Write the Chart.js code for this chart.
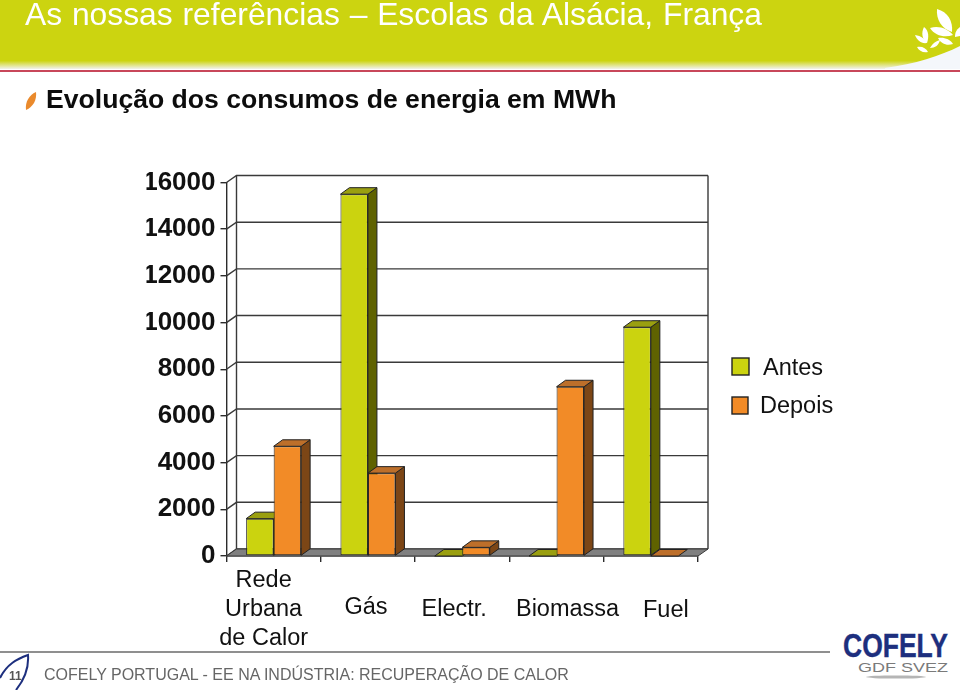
<!DOCTYPE html>
<html lang="pt">
<head>
<meta charset="UTF-8">
<title>Evolução dos consumos de energia em MWh</title>
<script src="https://cdn.jsdelivr.net/npm/chart.js"></script>
<style>
  html, body { margin: 0; padding: 0; background: #fff; }
  body { position: relative; width: 960px; height: 690px; overflow: hidden; font-family: "Liberation Sans", Arial, sans-serif; }
  #decor, #chart { position: absolute; left: 0; top: 0; }
  .txt { position: absolute; white-space: pre; }
  #title { left: 25px; top: -4px; font-size: 31.8px; line-height: 36px; word-spacing: 1px; color: #fff; }
  #subtitle { left: 46px; top: 84px; font-size: 26.6px; line-height: 30px; font-weight: bold; color: #0c0c0c; }
  #footer { left: 44px; top: 665px; font-size: 16px; line-height: 20px; color: #666; }
  #page { left: 9px; top: 669px; font-size: 12px; line-height: 14px; font-weight: bold; color: #555; }
</style>
</head>
<body>
<svg id="decor" width="960" height="690" viewBox="0 0 960 690">
  <defs>
    <linearGradient id="band" x1="0" y1="0" x2="0" y2="1">
      <stop offset="0" stop-color="#ccd410"/>
      <stop offset="0.88" stop-color="#ccd410"/>
      <stop offset="1" stop-color="#f2f2ee"/>
    </linearGradient>
  </defs>
  <rect x="0" y="0" width="960" height="69" fill="url(#band)"/>
  <path d="M885 68 C915 64 940 56 960 46 L960 69 L885 69 Z" fill="#f4f7fb"/>
  <rect x="0" y="70" width="960" height="2" fill="#c8475a"/>
  <g fill="#fff">
    <path d="M937 9 C948 12 953 21 952 32 C942 29 936 20 937 9 Z"/>
    <path d="M960 27 C956 30 955 33 955 37 L960 36 Z"/>
    <path d="M930 28 C939 25 948 29 953 35 C945 38 935 36 930 28 Z"/>
    <path d="M924 27 C929 31 929 37 927 43 C922 39 921 33 924 27 Z"/>
    <path d="M915 35 C921 36 926 39 927 43 C921 44 917 40 915 35 Z"/>
    <path d="M917 47 C922 46 926 48 928 52 C923 53 919 51 917 47 Z"/>
    <path d="M930 48 C933 43 936 41 940 40 C939 45 935 48 930 48 Z"/>
    <path d="M938 38 C944 37 950 39 953 44 C947 46 941 44 938 38 Z"/>
  </g>
  <path d="M26 110 C25 102 29 95 36 92 C37 100 33 107 26 110 Z" fill="#ea8a2c"/>
  <rect x="0" y="651" width="830" height="2" fill="#8f8f8f"/>
  <path d="M0 678 C7 664 17 659 28 655 C29 668 24 680 16 690" fill="none" stroke="#1d2f7e" stroke-width="2"/>
  <text x="843" y="657" font-family="Liberation Sans" font-weight="bold" font-size="33" fill="#1d2f7e" textLength="105" lengthAdjust="spacingAndGlyphs" stroke="#1d2f7e" stroke-width="0.4">COFELY</text>
  <text x="858" y="672" font-family="Liberation Sans" font-size="13" fill="#7a7a7a" textLength="90" lengthAdjust="spacingAndGlyphs">GDF SVEZ</text>
  <ellipse cx="896" cy="677" rx="30" ry="1.6" fill="#b5b5b5"/>
</svg>
<canvas id="chart" width="960" height="690"></canvas>
<div id="title" class="txt">As nossas referências – Escolas da Alsácia, França</div>
<div id="subtitle" class="txt">Evolução dos consumos de energia em MWh</div>
<div id="footer" class="txt">COFELY PORTUGAL - EE NA INDÚSTRIA: RECUPERAÇÃO DE CALOR</div>
<div id="page" class="txt">11</div>
<script>
const categories = [['Rede', 'Urbana', 'de Calor'], 'Gás', 'Electr.', 'Biomassa', 'Fuel'];
const antes = [1600, 15500, 0, 0, 9800];
const depois = [4700, 3550, 370, 7250, 0];
const seriesNames = ['Antes', 'Depois'];
const yMax = 16000;
const yStep = 2000;

const FONT = '"Liberation Sans", Arial, sans-serif';
const LINE = '#2b2b2b';
const wall = { dx: 10, dy: -7 };
const box = { dx: 9, dy: -6.5 };

const faces = [
  { front: '#cbd30f', top: '#9a9f10', side: '#5f6200' },
  { front: '#f28b27', top: '#bd6f2a', side: '#7c4616' }
];

function poly(ctx, pts, fill) {
  ctx.beginPath();
  pts.forEach((p, i) => i ? ctx.lineTo(p[0], p[1]) : ctx.moveTo(p[0], p[1]));
  ctx.closePath();
  if (fill) { ctx.fillStyle = fill; ctx.fill(); }
  ctx.stroke();
}

// back wall, floor and the fake depth of the bars
const depth3d = {
  id: 'depth3d',
  beforeDatasetsDraw(chart) {
    const { ctx, chartArea: a, scales: { y } } = chart;
    ctx.save();
    ctx.strokeStyle = '#3a3a3a';
    ctx.lineWidth = 1.4;
    y.ticks.forEach(t => {
      const py = y.getPixelForValue(t.value);
      ctx.beginPath();
      ctx.moveTo(a.left, py);
      ctx.lineTo(a.left + wall.dx, py + wall.dy);
      ctx.lineTo(a.right + wall.dx, py + wall.dy);
      ctx.stroke();
    });
    ctx.beginPath();
    ctx.moveTo(a.left + wall.dx, a.top + wall.dy);
    ctx.lineTo(a.left + wall.dx, a.bottom + wall.dy);
    ctx.moveTo(a.right + wall.dx, a.top + wall.dy);
    ctx.lineTo(a.right + wall.dx, a.bottom + wall.dy);
    ctx.stroke();
    ctx.lineWidth = 1;
    poly(ctx, [[a.left, a.bottom], [a.right, a.bottom], [a.right + wall.dx, a.bottom + wall.dy], [a.left + wall.dx, a.bottom + wall.dy]], '#808080');

    ctx.strokeStyle = '#222';
    ctx.lineJoin = 'round';
    categories.forEach((c, i) => {
      chart.data.datasets.forEach((ds, d) => {
        const bar = chart.getDatasetMeta(d).data[i];
        const x0 = bar.x - bar.width / 2, x1 = bar.x + bar.width / 2;
        const top = bar.y, base = bar.base;
        if (base - top > 0.5) {
          poly(ctx, [[x1, top], [x1 + box.dx, top + box.dy], [x1 + box.dx, base + box.dy], [x1, base]], faces[d].side);
        }
        poly(ctx, [[x0, top], [x1, top], [x1 + box.dx, top + box.dy], [x0 + box.dx, top + box.dy]], faces[d].top);
      });
    });
    ctx.restore();
  }
};

// category labels sit loose under the axis in the slide, legend too
const looseLabels = {
  id: 'looseLabels',
  afterDraw(chart) {
    const { ctx, scales: { x } } = chart;
    const shift = [-10, -2, -8, 11, 15];
    const rowY = [581, 608, 610, 610, 611];
    ctx.save();
    ctx.font = '23.5px ' + FONT;
    ctx.fillStyle = '#111';
    ctx.textBaseline = 'middle';
    ctx.textAlign = 'center';
    categories.forEach((c, i) => {
      const lines = Array.isArray(c) ? c : [c];
      lines.forEach((t, n) => ctx.fillText(t, x.getPixelForValue(i) + shift[i], rowY[i] + n * 29));
    });
    const spots = [{ x: 732, y: 358, w: 17, tx: 763, ty: 369 }, { x: 732, y: 397, w: 16, tx: 760, ty: 407 }];
    ctx.textAlign = 'left';
    chart.data.datasets.forEach((ds, d) => {
      const s = spots[d];
      ctx.fillStyle = ds.backgroundColor;
      ctx.strokeStyle = '#222';
      ctx.lineWidth = 1.4;
      ctx.fillRect(s.x, s.y, s.w, 17);
      ctx.strokeRect(s.x, s.y, s.w, 17);
      ctx.fillStyle = '#111';
      ctx.fillText(ds.label, s.tx, s.ty);
    });
    ctx.restore();
  }
};

new Chart(document.getElementById('chart'), {
  type: 'bar',
  data: {
    labels: categories,
    datasets: [
      { label: seriesNames[0], data: antes, backgroundColor: faces[0].front },
      { label: seriesNames[1], data: depois, backgroundColor: faces[1].front }
    ]
  },
  options: {
    responsive: false,
    animation: false,
    events: [],
    layout: { padding: { left: 146.5, top: 182.5, right: 262, bottom: 124 } },
    datasets: { bar: { barPercentage: 1, categoryPercentage: 0.583, borderColor: '#222', borderWidth: 1, borderSkipped: false } },
    plugins: { legend: { display: false }, title: { display: false }, tooltip: { enabled: false } },
    scales: {
      x: {
        afterFit: s => { s.height = 10; },
        ticks: { display: false },
        grid: { drawOnChartArea: false, color: LINE, tickLength: 6, lineWidth: 1.4 },
        border: { color: LINE, width: 1.4 }
      },
      y: {
        min: 0,
        max: yMax,
        afterFit: s => { s.width = 80; },
        ticks: { stepSize: yStep, padding: 5, color: '#111', font: { family: FONT, size: 26, weight: 'bold' }, callback: v => String(v) },
        grid: { drawOnChartArea: false, color: LINE, tickLength: 6, lineWidth: 1.4 },
        border: { color: LINE, width: 1.4 }
      }
    }
  },
  plugins: [depth3d, looseLabels]
});
</script>
</body>
</html>
